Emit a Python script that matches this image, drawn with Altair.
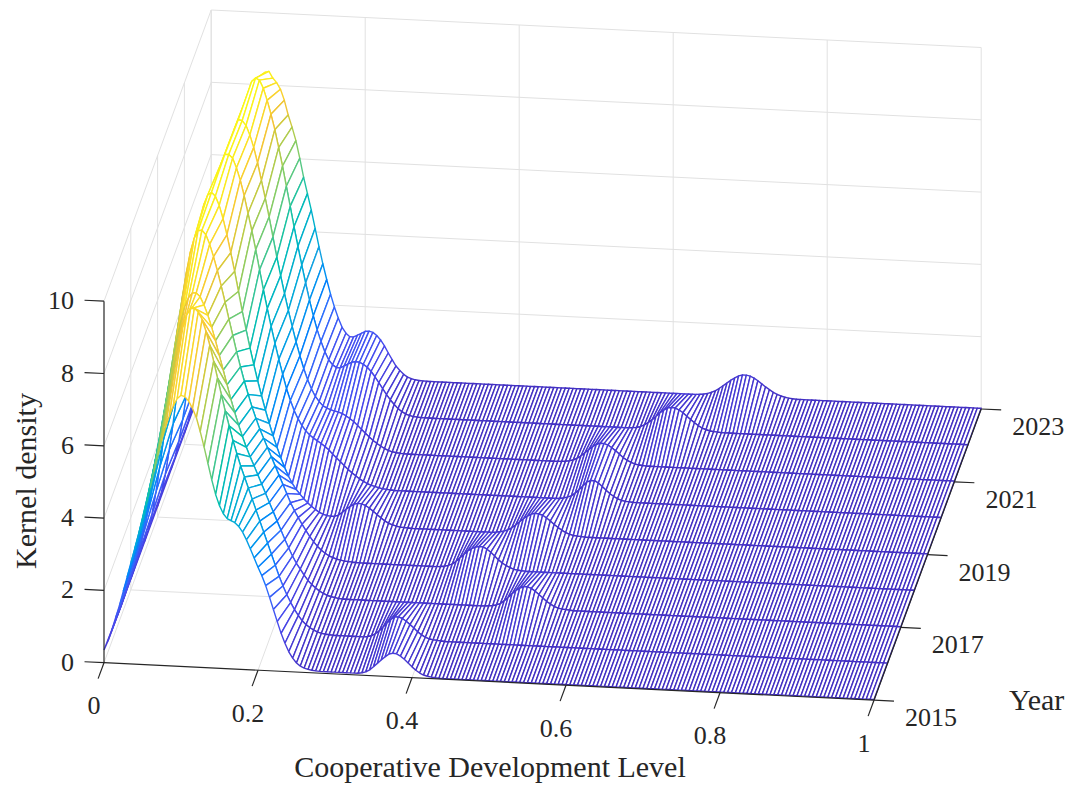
import numpy as np
import pandas as pd
import altair as alt

alt.data_transformers.disable_max_rows()

# %% data
years = [2015, 2016, 2017, 2018, 2019, 2020, 2021, 2022, 2023]
year_ticks = [2015, 2017, 2019, 2021, 2023]
level_ticks = [0, 0.2, 0.4, 0.6, 0.8, 1]
level_labels = ["0", "0.2", "0.4", "0.6", "0.8", "1"]
density_ticks = [0, 2, 4, 6, 8, 10]

# kernel density at level = 0.000, 0.005, 0.010, ... (10 values per 0.05);
# whatever is not listed at the end of a row is the flat floor value
flat = 0.02
d2015 = ([0.35, 0.6, 0.9, 1.25, 1.6, 2.0, 2.4, 2.8, 3.2, 3.6,
          4.0, 4.45, 4.9, 5.35, 5.8, 6.22, 6.6, 6.93, 7.2, 7.4,
          7.5, 7.47, 7.35, 7.15, 6.9, 6.52, 6.1, 5.65, 5.2, 4.8,
          4.5, 4.28, 4.15, 4.1, 4.05, 3.95, 3.8, 3.59, 3.35, 3.1,
          2.85, 2.62, 2.35, 2.03, 1.7, 1.37, 1.05, 0.78, 0.55, 0.38,
          0.25, 0.17, 0.12, 0.09, 0.07, 0.06, 0.05, 0.05, 0.05, 0.05,
          0.05, 0.05, 0.05, 0.05, 0.05, 0.05, 0.05, 0.07, 0.1, 0.16,
          0.25, 0.35, 0.45, 0.54, 0.62, 0.65, 0.64, 0.58, 0.5, 0.4,
          0.3, 0.21, 0.14, 0.09, 0.06, 0.04, 0.03])
d2016 = ([0.3, 0.58, 0.9, 1.28, 1.7, 2.14, 2.6, 3.1, 3.6, 4.15,
          4.7, 5.25, 5.8, 6.35, 6.9, 7.42, 7.9, 8.35, 8.7, 8.88,
          8.9, 8.8, 8.6, 8.28, 7.9, 7.46, 7.0, 6.55, 6.1, 5.7,
          5.3, 4.94, 4.6, 4.3, 4.0, 3.7, 3.4, 3.1, 2.8, 2.5,
          2.2, 1.9, 1.6, 1.34, 1.1, 0.89, 0.7, 0.54, 0.4, 0.3,
          0.22, 0.16, 0.11, 0.08, 0.06, 0.05, 0.04, 0.04, 0.04, 0.04,
          0.04, 0.04, 0.04, 0.04, 0.04, 0.05, 0.08, 0.14, 0.22, 0.33,
          0.45, 0.55, 0.63, 0.64, 0.6, 0.53, 0.44, 0.35, 0.25, 0.17,
          0.11, 0.07, 0.05, 0.04, 0.03])
d2017 = ([0.3, 0.62, 1.0, 1.48, 2.0, 2.58, 3.2, 3.84, 4.5, 5.15,
          5.8, 6.43, 7.0, 7.5, 7.9, 8.16, 8.3, 8.3, 8.2, 7.98,
          7.7, 7.37, 7.0, 6.6, 6.2, 5.8, 5.4, 5.04, 4.7, 4.39,
          4.1, 3.84, 3.6, 3.35, 3.1, 2.85, 2.6, 2.35, 2.1, 1.85,
          1.6, 1.37, 1.15, 0.96, 0.8, 0.64, 0.5, 0.39, 0.3, 0.22,
          0.16, 0.11, 0.08, 0.06, 0.04, 0.035, 0.03, 0.03, 0.03, 0.03]
         + [0.03] * 30
         + [0.03, 0.03, 0.03, 0.04, 0.05, 0.08, 0.12, 0.2, 0.3, 0.4,
            0.5, 0.57, 0.62, 0.62, 0.58, 0.51, 0.42, 0.33, 0.24, 0.17,
            0.11, 0.07, 0.05, 0.04, 0.03])
d2018 = ([0.3, 0.65, 1.1, 1.7, 2.4, 3.18, 4.0, 4.85, 5.7, 6.48,
          7.2, 7.85, 8.4, 8.78, 9.0, 9.02, 8.9, 8.64, 8.3, 7.92,
          7.5, 7.06, 6.6, 6.15, 5.7, 5.29, 4.9, 4.54, 4.2, 3.89,
          3.6, 3.35, 3.1, 2.85, 2.6, 2.35, 2.1, 1.85, 1.6, 1.39,
          1.2, 1.02, 0.85, 0.69, 0.55, 0.43, 0.33, 0.25, 0.18, 0.14,
          0.1, 0.08, 0.06, 0.05, 0.04, 0.035, 0.03, 0.03, 0.03, 0.03]
         + [0.03] * 10
         + [0.03, 0.03, 0.03, 0.03, 0.03, 0.03, 0.03, 0.04, 0.05, 0.08,
            0.12, 0.2, 0.3, 0.4, 0.5, 0.57, 0.62, 0.645, 0.64, 0.58,
            0.5, 0.4, 0.3, 0.22, 0.15, 0.1, 0.06, 0.04, 0.03])
d2019 = ([0.3, 0.7, 1.2, 1.87, 2.6, 3.44, 4.3, 5.17, 6.0, 6.84,
          7.6, 8.22, 8.7, 8.97, 9.05, 8.95, 8.7, 8.34, 7.9, 7.41,
          6.9, 6.35, 5.8, 5.29, 4.8, 4.34, 3.9, 3.49, 3.1, 2.74,
          2.4, 2.09, 1.8, 1.54, 1.3, 1.11, 0.95, 0.82, 0.7, 0.59,
          0.5, 0.42, 0.35, 0.3, 0.27, 0.255, 0.26, 0.3, 0.38, 0.47,
          0.55, 0.62, 0.65, 0.64, 0.6, 0.53, 0.45, 0.36, 0.28, 0.2,
          0.14, 0.1, 0.07, 0.05, 0.04, 0.035, 0.03, 0.03, 0.03, 0.03]
         + [0.03] * 18
         + [0.04, 0.055,
            0.08, 0.12, 0.18, 0.26, 0.35, 0.44, 0.52, 0.58, 0.61, 0.6,
            0.57, 0.5, 0.42, 0.33, 0.25, 0.18, 0.12, 0.08, 0.05, 0.04,
            0.03])
d2020 = ([0.3, 0.65, 1.1, 1.7, 2.4, 3.18, 4.0, 4.85, 5.7, 6.48,
          7.2, 7.85, 8.4, 8.84, 9.1, 9.1, 9.0, 8.74, 8.4, 7.98,
          7.5, 7.02, 6.5, 5.95, 5.4, 4.89, 4.4, 3.94, 3.5, 3.09,
          2.7, 2.38, 2.1, 1.88, 1.7, 1.56, 1.45, 1.37, 1.3, 1.23,
          1.15, 1.06, 0.95, 0.85, 0.75, 0.65, 0.55, 0.46, 0.38, 0.3,
          0.24, 0.18, 0.14, 0.11, 0.08, 0.06, 0.05, 0.04, 0.03, 0.03]
         + [0.03] * 40
         + [0.03, 0.03, 0.05, 0.08, 0.12, 0.2, 0.3, 0.41, 0.52, 0.57,
            0.57, 0.51, 0.42, 0.32, 0.23, 0.16, 0.1, 0.06, 0.04, 0.03])
d2021 = ([0.3, 0.65, 1.1, 1.7, 2.4, 3.18, 4.0, 4.85, 5.7, 6.48,
          7.2, 7.85, 8.4, 8.8, 9.05, 9.03, 8.9, 8.64, 8.3, 7.88,
          7.4, 6.91, 6.4, 5.85, 5.3, 4.79, 4.3, 3.84, 3.4, 2.98,
          2.6, 2.25, 1.95, 1.7, 1.5, 1.36, 1.25, 1.19, 1.15, 1.12,
          1.1, 1.06, 1.0, 0.93, 0.85, 0.75, 0.65, 0.55, 0.45, 0.36,
          0.28, 0.21, 0.15, 0.1, 0.07, 0.05, 0.04, 0.035, 0.03, 0.03]
         + [0.03] * 38
         + [0.035, 0.045,
            0.06, 0.09, 0.14, 0.21, 0.3, 0.39, 0.48, 0.55, 0.59, 0.585,
            0.55, 0.48, 0.4, 0.31, 0.22, 0.15, 0.1, 0.06, 0.04, 0.03])
d2022 = ([0.3, 0.65, 1.1, 1.66, 2.3, 3.07, 3.9, 4.75, 5.6, 6.39,
          7.1, 7.75, 8.3, 8.76, 9.1, 9.2, 9.15, 8.93, 8.6, 8.22,
          7.8, 7.31, 6.8, 6.25, 5.7, 5.14, 4.6, 4.09, 3.6, 3.13,
          2.7, 2.32, 2.0, 1.72, 1.5, 1.37, 1.3, 1.3, 1.35, 1.41,
          1.47, 1.49, 1.48, 1.43, 1.35, 1.24, 1.1, 0.94, 0.78, 0.62,
          0.48, 0.36, 0.25, 0.17, 0.11, 0.07, 0.05, 0.04, 0.03, 0.03]
         + [0.03] * 50
         + [0.03, 0.03, 0.03, 0.04, 0.05, 0.08, 0.13, 0.2, 0.28, 0.38,
            0.48, 0.56, 0.63, 0.65, 0.64, 0.59, 0.52, 0.43, 0.34, 0.26,
            0.18, 0.12, 0.08, 0.05, 0.04, 0.03])
d2023 = ([0.3, 0.6, 1.0, 1.52, 2.1, 2.78, 3.5, 4.25, 5.0, 5.72,
          6.4, 7.04, 7.6, 8.04, 8.35, 8.38, 8.2, 8.08, 7.9, 7.6,
          7.2, 6.87, 6.5, 6.02, 5.5, 5.05, 4.6, 4.1, 3.6, 3.13,
          2.7, 2.3, 1.95, 1.65, 1.4, 1.24, 1.15, 1.15, 1.2, 1.26,
          1.32, 1.33, 1.3, 1.22, 1.1, 0.94, 0.75, 0.57, 0.4, 0.28,
          0.18, 0.11, 0.07, 0.045, 0.03, 0.025, 0.02, 0.02, 0.02, 0.02]
         + [0.02] * 67
         + [0.03, 0.04, 0.065,
            0.1, 0.15, 0.22, 0.3, 0.38, 0.46, 0.53, 0.59, 0.62, 0.62,
            0.6, 0.55, 0.48, 0.4, 0.32, 0.25, 0.18, 0.13, 0.09, 0.06,
            0.04, 0.03])

density = [d2015, d2016, d2017, d2018, d2019, d2020, d2021, d2022, d2023]
level = np.round(np.linspace(0, 1, 201), 3)
Z = np.array([row + [flat] * (len(level) - len(row)) for row in density])

# parula
parula = ["#4330c2", "#4848ec", "#2c6ffe", "#16a0e3", "#06b2c9",
          "#3bc595", "#a0cc57", "#f6c436", "#f9fb15"]

# %% 3d box -> page (orthographic view of the matlab axes)
O = np.array([104.0, 662.7])
EU = np.array([770.0, 37.5])   # one unit of level
ET = np.array([13.4, -36.4])   # one year
EZ = np.array([0.0, -36.15])   # one unit of density


def proj(u, yr, z):
    p = O + EU * u + ET * (yr - years[0]) + EZ * z
    return float(p[0]), float(p[1])


# surface: white quads drawn back to front, edge colour from height
rows = []
q = 0
for k in range(len(years) - 2, -1, -1):
    for i in range(len(level) - 1):
        idx = [(k, i), (k, i + 1), (k + 1, i + 1), (k + 1, i), (k, i)]
        zs = [Z[a, b] for a, b in idx[:4]]
        c = float(0.5 * (np.mean(zs) + np.max(zs)))
        for j, (a, b) in enumerate(idx):
            x, y = proj(level[b], years[a], Z[a, b])
            rows.append({"qid": f"q{q:05d}", "k": j, "x": x, "y": y, "c": c})
        q += 1
surf = pd.DataFrame(rows)

# grid on the back planes
seg = []
for z in density_ticks:
    seg.append(proj(0, 2023, z) + proj(1, 2023, z))
    seg.append(proj(0, 2015, z) + proj(0, 2023, z))
for u in level_ticks:
    seg.append(proj(u, 2023, 0) + proj(u, 2023, 10))
    if u > 0:
        seg.append(proj(u, 2015, 0) + proj(u, 2023, 0))
for yr in year_ticks[1:]:
    seg.append(proj(0, yr, 0) + proj(0, yr, 10))
    seg.append(proj(0, yr, 0) + proj(1, yr, 0))
grid_df = pd.DataFrame(seg, columns=["x", "y", "x2", "y2"])

# axis lines and ticks
eu = EU / np.hypot(*EU)
et = ET / np.hypot(*ET)
ax = [proj(0, 2015, 0) + proj(1, 2015, 0),
      proj(1, 2015, 0) + proj(1, 2023, 0),
      proj(0, 2015, 0) + proj(0, 2015, 10)]
xlab, ylab, zlab = [], [], []
for u, s in zip(level_ticks, level_labels):
    p = np.array(proj(u, 2015, 0))
    ax.append(tuple(p) + tuple(p - et * 17))
    xlab.append({"x": p[0] - 10, "y": p[1] + 43.5, "label": s})
for yr in year_ticks:
    p = np.array(proj(1, yr, 0))
    ax.append(tuple(p) + tuple(p + eu * 20))
    ylab.append({"x": p[0] + 31, "y": p[1] + 18, "label": str(yr)})
for z in density_ticks:
    p = np.array(proj(0, 2015, z))
    ax.append(tuple(p) + tuple(p - eu * 19.5))
    zlab.append({"x": p[0] - 30, "y": p[1], "label": str(z)})
axis_df = pd.DataFrame(ax, columns=["x", "y", "x2", "y2"])

# %% chart
FONT = "Liberation Serif"
INK = "#262626"
W, H = 1065, 775
X = alt.X("x:Q", scale=alt.Scale(domain=[8, 8 + W], nice=False, zero=False), axis=None)
Y = alt.Y("y:Q", scale=alt.Scale(domain=[8, 8 + H], nice=False, zero=False, reverse=True), axis=None)

grid = alt.Chart(grid_df).mark_rule(color="#e1e1e1", strokeWidth=1).encode(x=X, y=Y, x2="x2:Q", y2="y2:Q")

surface = (
    alt.Chart(surf)
    .mark_line(fill="white", strokeWidth=1.4, strokeJoin="round")
    .encode(
        x=X,
        y=Y,
        detail="qid:N",
        order="k:Q",
        stroke=alt.Stroke(
            "c:Q",
            scale=alt.Scale(domain=list(np.linspace(0, 9.2, len(parula))), range=parula),
            legend=None,
        ),
    )
)

axes = alt.Chart(axis_df).mark_rule(color=INK, strokeWidth=1.2).encode(x=X, y=Y, x2="x2:Q", y2="y2:Q")


def labels(recs, align, baseline, size, angle=0):
    return (
        alt.Chart(pd.DataFrame(recs))
        .mark_text(align=align, baseline=baseline, font=FONT, fontSize=size, color=INK, angle=angle)
        .encode(x=X, y=Y, text="label:N")
    )


titles_c = [{"x": 490, "y": 777, "label": "Cooperative Development Level"}]
titles_l = [{"x": 1009, "y": 710, "label": "Year"}]
titles_z = [{"x": 36, "y": 481, "label": "Kernel density"}]

chart = alt.layer(
    grid,
    surface,
    axes,
    labels(xlab, "center", "middle", 26),
    labels(ylab, "left", "middle", 26),
    labels(zlab, "right", "middle", 26),
    labels(titles_c, "center", "alphabetic", 30),
    labels(titles_l, "left", "alphabetic", 30),
    labels(titles_z, "center", "alphabetic", 30, angle=270),
).properties(
    width=W, height=H, padding=0, autosize=alt.AutoSizeParams(type="none")
).configure_view(stroke=None)

chart.save("out.html", embed_options={"renderer": "svg", "actions": False})
